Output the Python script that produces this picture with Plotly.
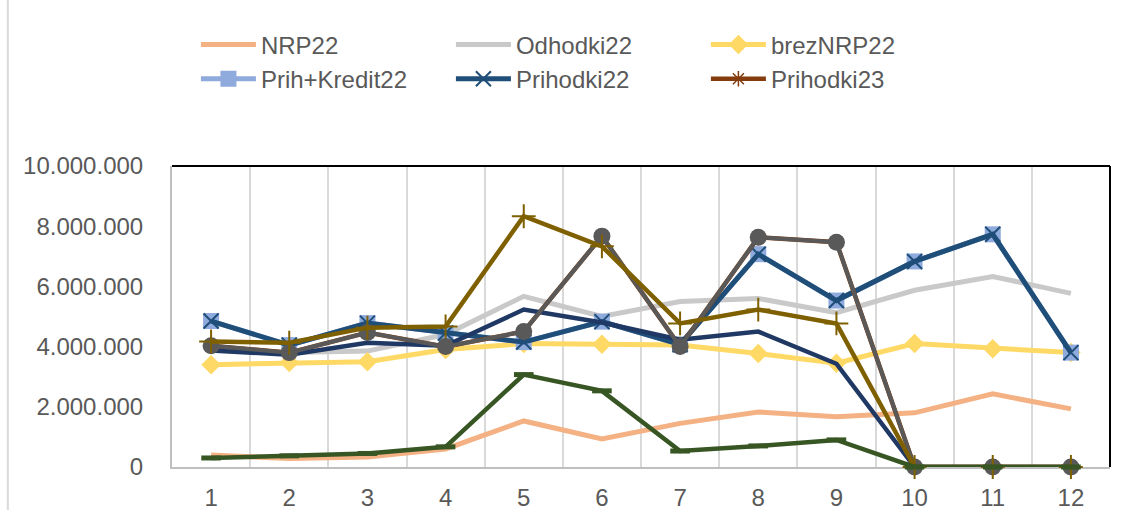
import plotly.graph_objects as go

months = list(range(1, 13))
month_labels = [str(m) for m in months]

nrp22 = [400000, 280000, 330000, 600000, 1530000, 930000, 1450000, 1830000, 1670000, 1800000, 2430000, 1930000]
odhodki22 = [3900000, 3800000, 3850000, 4400000, 5670000, 5000000, 5500000, 5600000, 5130000, 5870000, 6330000, 5770000]
brez_nrp22 = [3400000, 3470000, 3500000, 3900000, 4100000, 4080000, 4050000, 3770000, 3450000, 4100000, 3930000, 3800000]
prih_kredit22 = [4850000, 4050000, 4780000, 4450000, 4150000, 4830000, 4070000, 7070000, 5530000, 6830000, 7730000, 3800000]
prihodki22 = [4850000, 4050000, 4780000, 4450000, 4150000, 4830000, 4070000, 7070000, 5530000, 6830000, 7730000, 3800000]
prihodki23 = [4030000, 3800000, 4470000, 4000000, 4500000, 7670000, 4000000, 7630000, 7470000, 0, 0, 0]
extra_navy = [3870000, 3730000, 4130000, 4030000, 5230000, 4800000, 4230000, 4500000, 3430000, 0, 0, 0]
extra_grey = [4030000, 3800000, 4470000, 4000000, 4500000, 7670000, 4000000, 7630000, 7470000, 0, 0, 0]
extra_olive = [4170000, 4130000, 4630000, 4670000, 8330000, 7330000, 4770000, 5230000, 4770000, 0, 0, 0]
extra_green = [300000, 370000, 450000, 670000, 3070000, 2530000, 530000, 700000, 900000, 0, 0, 0]

y_ticks = [0, 2000000, 4000000, 6000000, 8000000, 10000000]

FONT = "Liberation Sans"
TXT = "#595959"

fig = go.Figure()

fig.add_trace(go.Scatter(x=months, y=nrp22, name="NRP22", mode="lines",
                         line=dict(color="#F4B183", width=5)))
fig.add_trace(go.Scatter(x=months, y=odhodki22, name="Odhodki22", mode="lines",
                         line=dict(color="#C9C9C9", width=5)))
fig.add_trace(go.Scatter(x=months, y=brez_nrp22, name="brezNRP22", mode="lines+markers",
                         line=dict(color="#FFD966", width=5),
                         marker=dict(symbol="diamond", size=15, color="#FFD966")))
fig.add_trace(go.Scatter(x=months, y=prih_kredit22, name="Prih+Kredit22", mode="lines+markers",
                         line=dict(color="#8FAADC", width=5),
                         marker=dict(symbol="square", size=16, color="#8FAADC")))
fig.add_trace(go.Scatter(x=months, y=prihodki22, name="Prihodki22", mode="lines+markers",
                         line=dict(color="#1F4E79", width=5),
                         marker=dict(symbol="x-thin-open", size=15, color="#1F4E79",
                                     line=dict(color="#1F4E79", width=2))))
fig.add_trace(go.Scatter(x=months, y=prihodki23, name="Prihodki23", mode="lines+markers",
                         line=dict(color="#843C0C", width=4.5),
                         marker=dict(symbol="asterisk-open", size=13, color="#843C0C",
                                     line=dict(color="#843C0C", width=1.5))))
fig.add_trace(go.Scatter(x=months, y=extra_navy, name="s7", mode="lines", showlegend=False,
                         line=dict(color="#203864", width=4.5)))
fig.add_trace(go.Scatter(x=months, y=extra_grey, name="s8", mode="lines+markers", showlegend=False,
                         line=dict(color="#595959", width=4),
                         marker=dict(symbol="circle", size=17, color="#595959")))
fig.add_trace(go.Scatter(x=months, y=extra_olive, name="s9", mode="lines+markers", showlegend=False,
                         line=dict(color="#7F6000", width=4.5),
                         marker=dict(symbol="cross-thin-open", size=17, color="#7F6000",
                                     line=dict(color="#7F6000", width=2))))
fig.add_trace(go.Scatter(x=months, y=extra_green, name="s10", mode="lines+markers", showlegend=False,
                         line=dict(color="#375623", width=4.5),
                         marker=dict(symbol="line-ew-open", size=14, color="#375623",
                                     line=dict(color="#375623", width=5))))

fig.update_traces(cliponaxis=False)

# plot frame: top and right black, chart-area left edge
fig.add_shape(type="line", xref="paper", yref="paper", x0=0, x1=1, y0=1, y1=1,
              line=dict(color="black", width=2))
fig.add_shape(type="line", xref="paper", yref="paper", x0=1, x1=1, y0=0, y1=1,
              line=dict(color="black", width=2))
fig.add_shape(type="line", xref="paper", yref="paper", x0=-0.175, x1=-0.175, y0=-0.2, y1=2,
              line=dict(color="#D9D9D9", width=2))

fig.update_layout(
    width=1131, height=510,
    margin=dict(l=172, r=21, t=166, b=43, autoexpand=False),
    paper_bgcolor="white", plot_bgcolor="white",
    separators=",.",
    font=dict(family=FONT, size=24, color=TXT),
    showlegend=True,
    legend=dict(orientation="h", x=0.0255, xanchor="left", y=1.477, yanchor="top",
                font=dict(family=FONT, size=24, color=TXT),
                entrywidth=185, entrywidthmode="pixels", itemwidth=55,
                tracegroupgap=0, bgcolor="rgba(0,0,0,0)"),
    xaxis=dict(range=[0.5, 12.5], tickvals=months, ticktext=month_labels,
               showgrid=False, zeroline=False, layer="below traces",
               showline=True, linecolor="#BFBFBF", linewidth=2,
               ticks="outside", ticklen=8, tickcolor="rgba(0,0,0,0)",
               tickfont=dict(family=FONT, size=24, color=TXT),
               minor=dict(tick0=0.5, dtick=1, showgrid=True, gridcolor="#D9D9D9", gridwidth=2)),
    yaxis=dict(range=[0, 10000000], tickvals=y_ticks, tickformat=",.0f",
               showgrid=False, zeroline=False, layer="below traces",
               showline=True, linecolor="#BFBFBF", linewidth=2,
               ticks="outside", ticklen=22, tickcolor="rgba(0,0,0,0)",
               tickfont=dict(family=FONT, size=24, color=TXT)),
)

fig.write_html("out.html", config={"displayModeBar": False},
               post_script="document.body.style.margin='0';document.body.style.overflow='hidden';")
